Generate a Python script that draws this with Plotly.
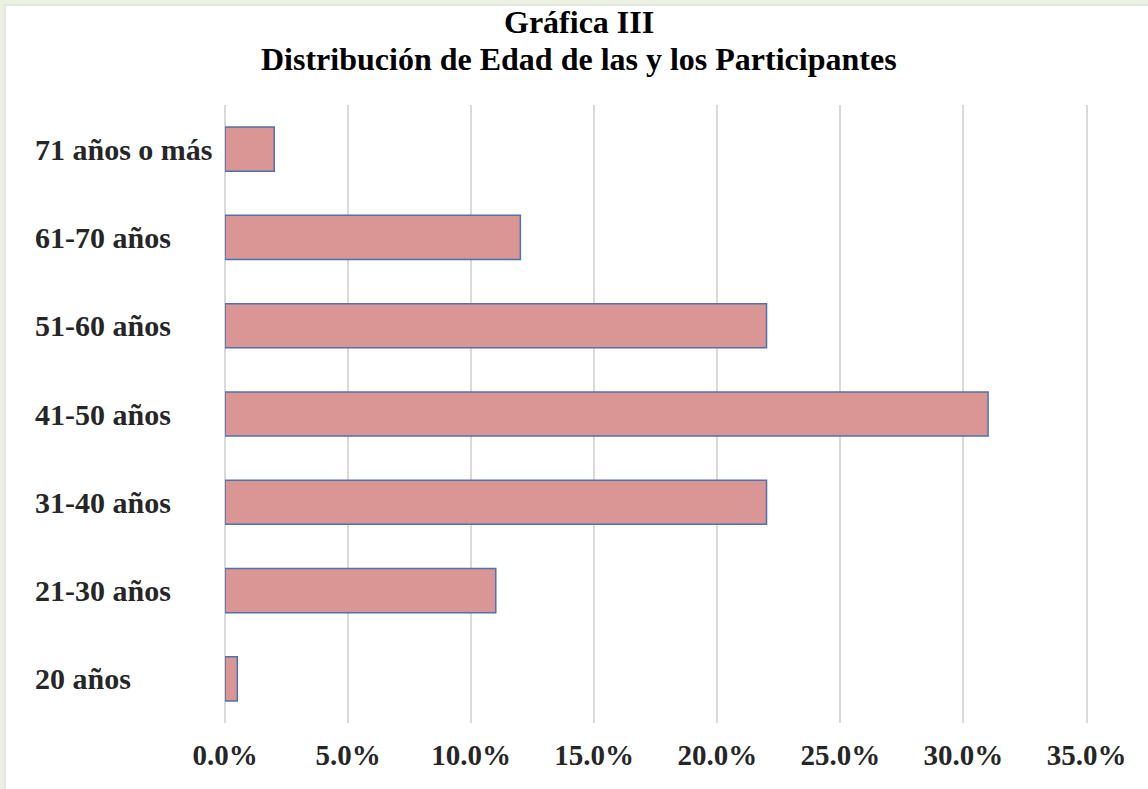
import plotly.graph_objects as go

categories = ["20 años", "21-30 años", "31-40 años", "41-50 años", "51-60 años", "61-70 años", "71 años o más"]
values = [0.005, 0.11, 0.22, 0.31, 0.22, 0.12, 0.02]
tick_vals = [0, 0.05, 0.10, 0.15, 0.20, 0.25, 0.30, 0.35]
title_line1 = "Gráfica III"
title_line2 = "Distribución de Edad de las y los Participantes"

W, H = 1148, 789
L, R, T, B = 225, 59, 105, 66
PW, PH = W - L - R, H - T - B


def px(x):
    return (x - L) / PW


def py(y):
    return (H - B - y) / PH


fig = go.Figure()
fig.add_trace(go.Bar(
    y=categories, x=values, orientation="h", width=0.5,
    marker=dict(color="#D99694", line=dict(color="#4F72AA", width=1.5)),
    hoverinfo="x+y",
))

label_font = dict(family="Liberation Serif", size=30, color="#262626", weight="bold")

annotations = []
for c in categories:
    annotations.append(dict(
        x=px(33), xref="paper", y=c, yref="y", text=c,
        showarrow=False, xanchor="left", yanchor="middle", font=label_font,
    ))
title_font = dict(family="Liberation Serif", size=32, color="#000000", weight="bold")
annotations.append(dict(
    x=px(579), xref="paper", y=py(22), yref="paper", text=title_line1,
    showarrow=False, xanchor="center", yanchor="middle", font=title_font,
))
annotations.append(dict(
    x=px(579), xref="paper", y=py(59), yref="paper", text=title_line2,
    showarrow=False, xanchor="center", yanchor="middle", font=title_font,
))

shapes = [
    dict(type="rect", xref="paper", yref="paper", x0=px(5), x1=px(W + 5), y0=py(5), y1=py(H + 5),
         fillcolor="#FFFFFF", line=dict(width=0), layer="below"),
    dict(type="rect", xref="paper", yref="paper", x0=px(4), x1=px(W + 5), y0=py(4), y1=py(6),
         fillcolor="#E4E6E2", line=dict(width=0), layer="below"),
    dict(type="rect", xref="paper", yref="paper", x0=px(4), x1=px(6), y0=py(4), y1=py(H + 5),
         fillcolor="#E4E6E2", line=dict(width=0), layer="below"),
]

fig.update_layout(
    width=W, height=H,
    margin=dict(l=L, r=R, t=T, b=B, pad=0),
    paper_bgcolor="#EBF1DE",
    plot_bgcolor="rgba(0,0,0,0)",
    showlegend=False,
    annotations=annotations,
    shapes=shapes,
    xaxis=dict(
        range=[0, 0.351], tickvals=tick_vals, tickformat=".1%",
        showgrid=True, gridcolor="#D9D9D9", gridwidth=2,
        zeroline=True, zerolinecolor="#D9D9D9", zerolinewidth=2,
        showline=False, ticks="",
        tickfont=dict(family="Liberation Serif", size=29, color="#262626", weight="bold"),
        ticklabelstandoff=12,
        fixedrange=True,
    ),
    yaxis=dict(
        categoryorder="array", categoryarray=categories,
        showticklabels=False, showgrid=False, zeroline=False, showline=False,
        range=[-0.5, len(categories) - 0.5], fixedrange=True,
    ),
)

fig.write_html(
    "out.html",
    config={"displayModeBar": False},
    post_script="document.body.style.margin='0';document.body.style.overflow='hidden';",
)
